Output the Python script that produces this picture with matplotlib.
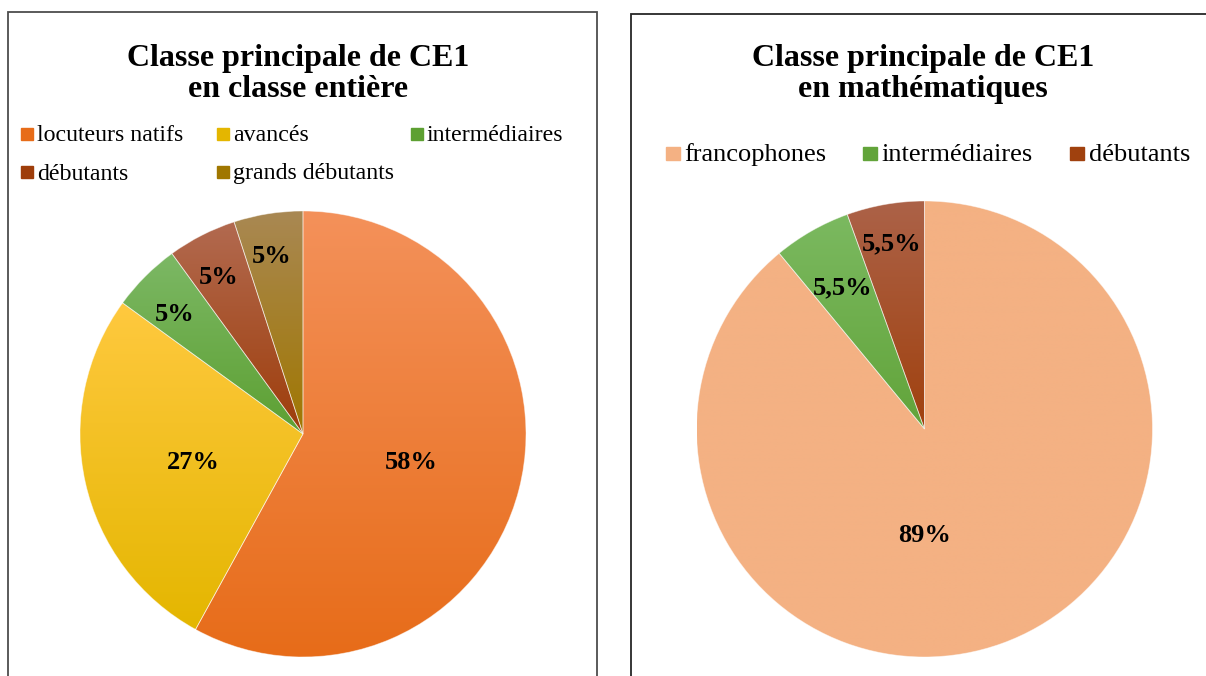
import numpy as np
import matplotlib
matplotlib.use("Agg")
import matplotlib.pyplot as plt
from matplotlib.patches import Rectangle
from matplotlib.colors import to_rgb

# ---------------- data ----------------
title_left = "Classe principale de CE1\nen classe entière"
cats_left = ["locuteurs natifs", "avancés", "intermédiaires", "débutants", "grands débutants"]
vals_left = [58, 27, 5, 5, 5]
labels_left = ["58%", "27%", "5%", "5%", "5%"]

title_right = "Classe principale de CE1\nen mathématiques"
cats_right = ["francophones", "intermédiaires", "débutants"]
vals_right = [89, 5.5, 5.5]
labels_right = ["89%", "5,5%", "5,5%"]

# ---------------- styles ----------------
grad_left = [("#F4915A", "#E76C19"), ("#FFC93F", "#E4B600"), ("#7CB865", "#5DA032"),
             ("#B26A50", "#9E3D0A"), ("#A98853", "#A07700")]
grad_right = [("#F4B183", "#F4B183"), ("#7BB960", "#62A43A"), ("#AC6248", "#A0410E")]

W, H = 1206, 676
SERIF = ["Liberation Serif", "DejaVu Serif"]

fig = plt.figure(figsize=(W / 100, H / 100), dpi=100)
ax = fig.add_axes([0, 0, 1, 1])


def Y(py):
    return H - py


def mix(c1, c2, n=256):
    a = np.array(to_rgb(c1)); b = np.array(to_rgb(c2))
    t = np.linspace(0, 1, n)[:, None]
    return (a * (1 - t) + b * t)[:, None, :]


def draw_pie(vals, grads, center, r, label_texts, label_offsets):
    wedges, _ = ax.pie(vals, colors=[g[0] for g in grads], startangle=90, counterclock=False,
                       center=center, radius=r, wedgeprops=dict(linewidth=0.6, edgecolor="#FFFFFF80"))
    for w, g in zip(wedges, grads):
        th = np.radians(np.linspace(w.theta1, w.theta2, 200))
        xs = np.concatenate([[center[0]], center[0] + r * np.cos(th)])
        ys = np.concatenate([[center[1]], center[1] + r * np.sin(th)])
        im = ax.imshow(mix(g[0], g[1]), extent=(xs.min(), xs.max(), ys.min(), ys.max()),
                       origin="upper", aspect="auto", zorder=2, interpolation="bilinear")
        im.set_clip_path(w)
        w.set_facecolor("none")
        w.set_zorder(3)
    for t, (dx, dy) in zip(label_texts, label_offsets):
        ax.text(center[0] + dx * r, center[1] + dy * r, t, ha="center", va="center",
                fontsize=19, fontweight="bold", family=SERIF, zorder=5)
    return wedges


# panels
ax.add_patch(Rectangle((8, Y(690)), 589, 690 - 12, fill=False, ec="#4d4d4d", lw=1.3, zorder=1))
ax.add_patch(Rectangle((631, Y(690)), 600, 690 - 14, fill=False, ec="#262626", lw=1.3, zorder=1))

# titles
ax.text(298, Y(74), title_left, ha="center", va="center", fontsize=23, fontweight="bold",
        family=SERIF, linespacing=1.1)
ax.text(923, Y(74), title_right, ha="center", va="center", fontsize=23, fontweight="bold",
        family=SERIF, linespacing=1.1)

# legends
leg_left_x = [21, 217, 411]
leg_left_y = [133.5, 172]
for i, (c, g) in enumerate(zip(cats_left, grad_left)):
    x = leg_left_x[i % 3]; y = leg_left_y[i // 3]
    ax.add_patch(Rectangle((x, Y(y) - 6), 12, 12, color=g[1], zorder=4))
    ax.text(x + 16, Y(y + 7.5), c, ha="left", va="baseline", fontsize=17.2, family=SERIF)

leg_right_x = [666, 863, 1070]
for i, (c, g) in enumerate(zip(cats_right, grad_right)):
    x = leg_right_x[i]; y = 153.5
    ax.add_patch(Rectangle((x, Y(y) - 6.5), 13.5, 13.5, color=g[1], zorder=4))
    ax.text(x + 18.5, Y(y + 7.5), c, ha="left", va="baseline", fontsize=19, family=SERIF)

draw_pie(vals_left, grad_left, (303, Y(434)), 223, labels_left,
         [(0.484, -0.126), (-0.493, -0.126), (-0.574, 0.534), (-0.377, 0.704), (-0.139, 0.794)])
draw_pie(vals_right, grad_right, (924.5, Y(429)), 228, labels_right,
         [(0.0, -0.469), (-0.36, 0.618), (-0.145, 0.811)])

ax.set_xlim(0, W)
ax.set_ylim(0, H)
ax.set_aspect("auto")
ax.axis("off")
fig.savefig("out.png", dpi=100, facecolor="white")
